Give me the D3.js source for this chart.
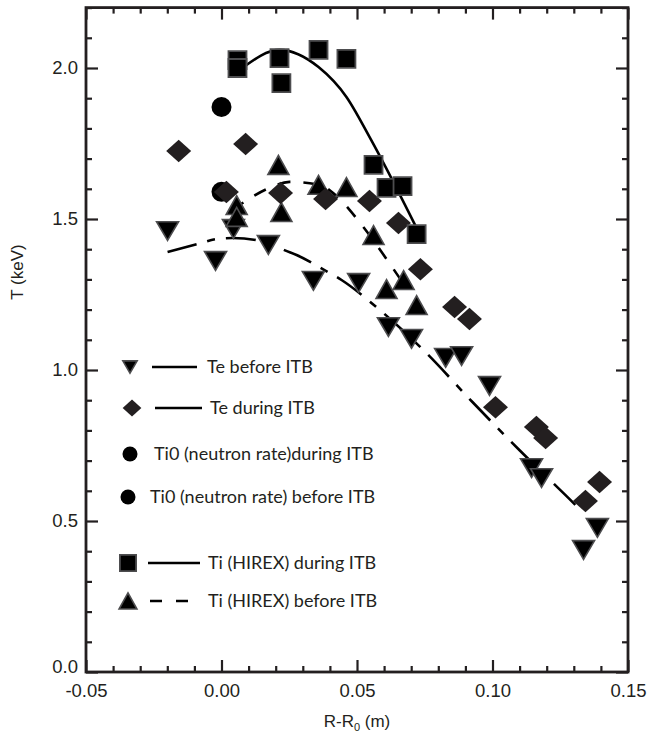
<!DOCTYPE html>
<html>
<head>
<meta charset="utf-8">
<script src="https://cdn.jsdelivr.net/npm/d3@7"></script>
<style>
  html, body { margin: 0; padding: 0; background: #fff; }
  svg { display: block; }
</style>
</head>
<body>
<svg id="chart" width="658" height="740"></svg>
<script>
// ---- data: radius R-R0 (m) and temperature T (keV) ----
const teBeforeX = [-0.0199, -0.0022, 0.0044, 0.0173, 0.0339, 0.0506, 0.0616, 0.0701, 0.0827, 0.0886, 0.0989, 0.1144, 0.1181, 0.1336, 0.1387];
const teBeforeT = [1.460, 1.361, 1.467, 1.414, 1.295, 1.288, 1.142, 1.103, 1.040, 1.046, 0.947, 0.675, 0.642, 0.404, 0.477];

const teDuringX = [-0.0158, 0.0089, 0.0018, 0.0218, 0.0384, 0.0546, 0.0653, 0.0734, 0.0860, 0.0915, 0.1011, 0.1162, 0.1196, 0.1343, 0.1395];
const teDuringT = [1.725, 1.748, 1.589, 1.586, 1.566, 1.560, 1.487, 1.334, 1.209, 1.169, 0.877, 0.811, 0.775, 0.566, 0.629];

const ti0DuringX = [0.0];
const ti0DuringT = [1.871];
const ti0BeforeX = [0.0];
const ti0BeforeT = [1.590];

const tiDuringX = [0.0059, 0.0059, 0.0214, 0.0221, 0.0358, 0.0461, 0.0561, 0.0609, 0.0668, 0.0720];
const tiDuringT = [2.026, 2.000, 2.033, 1.950, 2.060, 2.030, 1.679, 1.603, 1.609, 1.450];

const tiBeforeX = [0.0056, 0.0056, 0.0210, 0.0221, 0.0358, 0.0461, 0.0561, 0.0609, 0.0672, 0.0720];
const tiBeforeT = [1.546, 1.507, 1.679, 1.523, 1.613, 1.606, 1.447, 1.268, 1.298, 1.215];

// fitted profiles
const teBeforeFitX = [-0.0199, -0.0089, -0.0015, 0.0041, 0.0177, 0.0232, 0.0277, 0.0380, 0.0443, 0.0576, 0.0756, 0.0926, 0.1099, 0.1277, 0.1332];
const teBeforeFitT = [1.391, 1.417, 1.434, 1.437, 1.421, 1.397, 1.381, 1.331, 1.298, 1.205, 1.056, 0.894, 0.735, 0.579, 0.530];

const tiDuringFitX = [0.0077, 0.0214, 0.0358, 0.0461, 0.0546, 0.0720];
const tiDuringFitT = [2.000, 2.060, 2.003, 1.904, 1.772, 1.470];

const tiBeforeFitX = [0.0041, 0.0177, 0.0251, 0.0362, 0.0428, 0.0509, 0.0627, 0.0675];
const tiBeforeFitT = [1.530, 1.603, 1.623, 1.613, 1.573, 1.490, 1.344, 1.281];

const xTicks = [-0.05, 0.00, 0.05, 0.10, 0.15];
const xTickLabels = ["-0.05", "0.00", "0.05", "0.10", "0.15"];
const yTicks = [0.0, 0.5, 1.0, 1.5, 2.0];
const yTickLabels = ["0.0", "0.5", "1.0", "1.5", "2.0"];

const legendLabels = [
  "Te before ITB",
  "Te during ITB",
  "Ti0 (neutron rate)during ITB",
  "Ti0 (neutron rate) before ITB",
  "Ti (HIREX) during ITB",
  "Ti (HIREX) before ITB"
];

// ---- layout ----
const ink = "#231f20";
const plotL = 86, plotR = 628, plotT = 7.6, plotB = 672;
const svg = d3.select("#chart");

const x = d3.scaleLinear().domain([-0.05, 0.15]).range([plotL, plotR]);
const y = d3.scaleLinear().domain([0, 2.2]).range([plotB, plotT]);

const zip = (xs, ys) => xs.map((v, i) => [v, ys[i]]);

// ---- marker shapes (centred on their bounding box) ----
const triUp = {
  draw(ctx, size) {
    const s = Math.sqrt(size), h = s * 0.9;
    ctx.moveTo(0, -h / 2); ctx.lineTo(s / 2, h / 2); ctx.lineTo(-s / 2, h / 2); ctx.closePath();
  }
};
const triDown = {
  draw(ctx, size) {
    const s = Math.sqrt(size), h = s * 0.85;
    ctx.moveTo(0, h / 2); ctx.lineTo(s / 2, -h / 2); ctx.lineTo(-s / 2, -h / 2); ctx.closePath();
  }
};
const diamond = {
  draw(ctx, size) {
    const w = Math.sqrt(size) / 2, h = w * 0.9;
    ctx.moveTo(0, -h); ctx.lineTo(w, 0); ctx.lineTo(0, h); ctx.lineTo(-w, 0); ctx.closePath();
  }
};
const square = {
  draw(ctx, size) {
    const s = Math.sqrt(size) / 2;
    ctx.rect(-s, -s, 2 * s, 2 * s);
  }
};
const circle = {
  draw(ctx, size) {
    const r = Math.sqrt(size) / 2;
    ctx.moveTo(r, 0); ctx.arc(0, 0, r, 0, 2 * Math.PI);
  }
};

const styles = {
  teBefore: { type: triDown, size: 22 * 22, fill: "#000", stroke: "#4d4d4f", sw: 1.6 },
  teDuring: { type: diamond, size: 25 * 25, fill: ink, stroke: "none", sw: 0 },
  ti0: { type: circle, size: 20 * 20, fill: "#000", stroke: "none", sw: 0 },
  tiDuring: { type: square, size: 18 * 18, fill: "#000", stroke: "#4d4d4f", sw: 1.8 },
  tiBefore: { type: triUp, size: 21 * 21, fill: "#000", stroke: "#4d4d4f", sw: 1.6 }
};

// ---- fit lines ----
const line = d3.line().x(d => x(d[0])).y(d => y(d[1])).curve(d3.curveMonotoneX);
const gLines = svg.append("g").attr("fill", "none").attr("stroke", "#000").attr("stroke-width", 2.6);
gLines.append("path").attr("d", line(zip(teBeforeFitX, teBeforeFitT)))
  .attr("stroke-dasharray", "30,11,8,11");
gLines.append("path").attr("d", line(zip(tiDuringFitX, tiDuringFitT)));
gLines.append("path").attr("d", line(zip(tiBeforeFitX, tiBeforeFitT)))
  .attr("stroke-dasharray", "13,13");

// ---- markers ----
function drawSeries(xs, ys, st) {
  const sym = d3.symbol().type(st.type).size(st.size);
  svg.append("g").selectAll("path").data(zip(xs, ys)).join("path")
    .attr("transform", d => `translate(${x(d[0])},${y(d[1])})`)
    .attr("d", sym)
    .attr("fill", st.fill)
    .attr("stroke", st.stroke)
    .attr("stroke-width", st.sw);
}
drawSeries(ti0BeforeX, ti0BeforeT, styles.ti0);
drawSeries(ti0DuringX, ti0DuringT, styles.ti0);
drawSeries(teBeforeX, teBeforeT, styles.teBefore);
drawSeries(tiBeforeX, tiBeforeT, styles.tiBefore);
drawSeries(teDuringX, teDuringT, styles.teDuring);
drawSeries(tiDuringX, tiDuringT, styles.tiDuring);

// ---- axes: inward ticks on all four sides ----
const xMinor = d3.range(-50, 151, 10).map(v => v / 1000).filter(v => !xTicks.some(t => Math.abs(t - v) < 1e-9));
const yMinor = d3.range(0, 23).map(v => v / 10).filter(v => !yTicks.some(t => Math.abs(t - v) < 1e-9));

function styleAxis(g) {
  g.select(".domain").remove();
  g.selectAll(".tick line").attr("stroke", ink).attr("stroke-width", 2.2);
  g.selectAll("text").attr("fill", ink)
    .attr("font-family", "'Liberation Sans', Arial, sans-serif").attr("font-size", 18.5);
}

const fmtX = d => xTickLabels[xTicks.findIndex(t => Math.abs(t - d) < 1e-9)];
const fmtY = d => yTickLabels[yTicks.findIndex(t => Math.abs(t - d) < 1e-9)];

svg.append("g").attr("transform", `translate(0,${plotB})`)
  .call(d3.axisBottom(x).tickValues(xTicks).tickSize(-12).tickPadding(12).tickFormat(fmtX)).call(styleAxis);
svg.append("g").attr("transform", `translate(0,${plotB})`)
  .call(d3.axisBottom(x).tickValues(xMinor).tickSize(-6).tickFormat("")).call(styleAxis);
svg.append("g").attr("transform", `translate(0,${plotT})`)
  .call(d3.axisTop(x).tickValues(xTicks).tickSize(-12).tickFormat("")).call(styleAxis);
svg.append("g").attr("transform", `translate(0,${plotT})`)
  .call(d3.axisTop(x).tickValues(xMinor).tickSize(-6).tickFormat("")).call(styleAxis);

const yAxisMajor = svg.append("g").attr("transform", `translate(${plotL},0)`)
  .call(d3.axisLeft(y).tickValues(yTicks).tickSize(-12).tickPadding(8).tickFormat(fmtY)).call(styleAxis);
// the bottom label sits just above the corner, clear of the x labels
yAxisMajor.selectAll(".tick").filter(d => d === 0).select("text").attr("dy", "0.05em");
svg.append("g").attr("transform", `translate(${plotL},0)`)
  .call(d3.axisLeft(y).tickValues(yMinor).tickSize(-6).tickFormat("")).call(styleAxis);
svg.append("g").attr("transform", `translate(${plotR},0)`)
  .call(d3.axisRight(y).tickValues(yTicks).tickSize(-12).tickFormat("")).call(styleAxis);
svg.append("g").attr("transform", `translate(${plotR},0)`)
  .call(d3.axisRight(y).tickValues(yMinor).tickSize(-6).tickFormat("")).call(styleAxis);

// frame
svg.append("rect")
  .attr("x", plotL).attr("y", plotT).attr("width", plotR - plotL).attr("height", plotB - plotT)
  .attr("fill", "none").attr("stroke", ink).attr("stroke-width", 2.8);

// ---- axis titles ----
const axisFont = "'Liberation Sans', Arial, sans-serif";
const xTitle = svg.append("text")
  .attr("x", (plotL + plotR) / 2).attr("y", 727)
  .attr("text-anchor", "middle").attr("font-family", axisFont).attr("font-size", 17).attr("fill", ink);
xTitle.append("tspan").text("R-R");
xTitle.append("tspan").attr("font-size", 11).attr("dy", 4).text("0");
xTitle.append("tspan").attr("dy", -4).text(" (m)");

svg.append("text")
  .attr("transform", `translate(23,${272}) rotate(-90)`)
  .attr("text-anchor", "middle").attr("font-family", axisFont).attr("font-size", 17).attr("fill", ink)
  .text("T (keV)");

// ---- legend ----
const legFont = "Lato, 'Open Sans', sans-serif";
const legendRows = [
  { y: 367, st: styles.teBefore, scale: 0.65, mx: 130, line: [152, 197, null], tx: 207 },
  { y: 408, st: styles.teDuring, scale: 0.75, mx: 132, line: [155, 202, null], tx: 210 },
  { y: 454, st: styles.ti0, scale: 0.75, mx: 130, line: null, tx: 154 },
  { y: 497, st: styles.ti0, scale: 0.75, mx: 128, line: null, tx: 150 },
  { y: 563, st: styles.tiDuring, scale: 0.9, mx: 128, line: [148, 200, null], tx: 208 },
  { y: 601, st: styles.tiBefore, scale: 0.85, mx: 128, line: [150, 200, "12,14"], tx: 208 }
];
const gLeg = svg.append("g");
legendRows.forEach((r, i) => {
  gLeg.append("path")
    .attr("transform", `translate(${r.mx},${r.y})`)
    .attr("d", d3.symbol().type(r.st.type).size(r.st.size * r.scale * r.scale)())
    .attr("fill", r.st.fill).attr("stroke", r.st.stroke).attr("stroke-width", r.st.sw);
  if (r.line) {
    gLeg.append("line")
      .attr("x1", r.line[0]).attr("x2", r.line[1]).attr("y1", r.y).attr("y2", r.y)
      .attr("stroke", "#000").attr("stroke-width", 2.4)
      .attr("stroke-dasharray", r.line[2]);
  }
  gLeg.append("text")
    .attr("x", r.tx).attr("y", r.y).attr("dy", "0.36em")
    .attr("font-family", legFont).attr("font-size", 18).attr("fill", ink)
    .text(legendLabels[i]);
});
</script>
</body>
</html>
